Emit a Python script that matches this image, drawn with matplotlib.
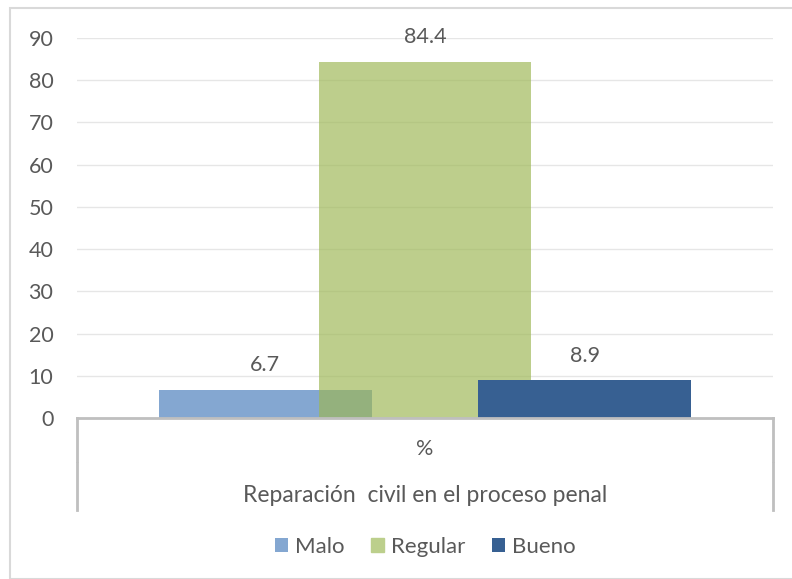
import matplotlib.pyplot as plt
from matplotlib.patches import Rectangle
from matplotlib.lines import Line2D

# data
series = ['Malo', 'Regular', 'Bueno']
values = [6.7, 84.4, 8.9]
colors = ['#84A7D1', '#9DB754', '#376092']
alphas = [1.0, 0.67, 1.0]
yticks = list(range(0, 100, 10))
category = '%'
group_label = 'Reparación  civil en el proceso penal'

plt.rcParams['font.family'] = ['Lato', 'DejaVu Sans']
txt = '#595959'
fs = 15.5

fig = plt.figure(figsize=(7.92, 5.79), dpi=100)
ax = fig.add_axes([77 / 792, 1 - 418 / 579, 696 / 792, 380 / 579])

# Excel style overlapping bars (width 1.33 with spacing 1)
width = 1.333
for i, (name, v) in enumerate(zip(series, values)):
    ax.bar(i, v, width=width, color=colors[i], alpha=alphas[i],
           zorder=2 + i, label=name)
    ax.text(i, v + 3.4, f'{v:.1f}', ha='center', va='bottom',
            fontsize=fs, color=txt, zorder=10)

ax.set_xlim(-1.18, 3.18)
ax.set_ylim(0, 90)
ax.set_yticks(yticks)
ax.set_xticks([])
ax.tick_params(axis='y', length=0, pad=17, labelsize=fs, labelcolor=txt)
ax.grid(axis='y', color='#E6E6E6', linewidth=1, zorder=0)
ax.set_axisbelow(True)
for s in ['top', 'right', 'left']:
    ax.spines[s].set_visible(False)
ax.spines['bottom'].set_color('#BFBFBF')
ax.spines['bottom'].set_linewidth(2)
ax.spines['bottom'].set_zorder(20)

# multi-level category box under the axis
for xf in (0, 1):
    ax.add_line(Line2D([xf, xf], [0, -0.113], transform=ax.transAxes,
                       color='#BFBFBF', lw=2, clip_on=False))
    ax.add_line(Line2D([xf, xf], [-0.118, -0.242], transform=ax.transAxes,
                       color='#BFBFBF', lw=2, clip_on=False))
ax.text(0.5, -0.082, category, transform=ax.transAxes, ha='center',
        va='center', fontsize=fs, color=txt)
ax.text(0.5, -0.205, group_label, transform=ax.transAxes, ha='center',
        va='center', fontsize=16.5, color=txt)

leg = ax.legend(loc='center', bbox_to_anchor=(0.5, -0.34), ncol=3,
                frameon=False, fontsize=16, handlelength=0.6,
                handleheight=0.6, handletextpad=0.3, columnspacing=1.2)
for t in leg.get_texts():
    t.set_color(txt)
for h in leg.legend_handles:
    h.set_alpha(1)
leg.legend_handles[1].set_color('#BCCF8C')

# outer chart border
fig.patches.append(Rectangle((10 / 792, 0), 1, 1 - 8 / 579, transform=fig.transFigure,
                             fill=False, edgecolor='#D9D9D9', lw=1.5))

fig.savefig('out.png', dpi=100)
